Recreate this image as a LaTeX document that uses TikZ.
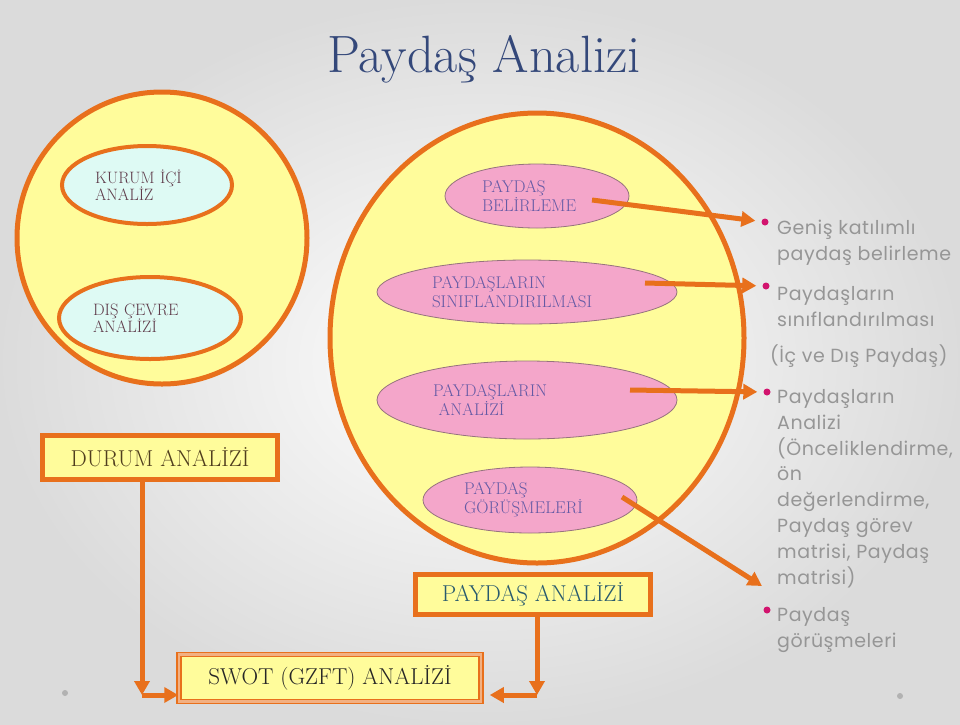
\documentclass[tikz,border=0pt]{standalone}
\usepackage{fontspec}
\newfontfamily\gothic[LetterSpace=3]{Poppins}
\usetikzlibrary{arrows.meta}
\usetikzlibrary{shapes.geometric}
\definecolor{rim}{RGB}{232,112,28}
\definecolor{lemon}{RGB}{255,252,155}
\definecolor{mint}{RGB}{222,250,244}
\definecolor{rose}{RGB}{244,166,202}
\definecolor{roseline}{RGB}{150,115,125}
\definecolor{ink}{RGB}{52,72,122}
\definecolor{violet}{RGB}{100,90,165}
\definecolor{plum}{RGB}{95,60,75}
\definecolor{olive}{RGB}{80,62,30}
\definecolor{teal}{RGB}{40,90,110}
\definecolor{dotpink}{RGB}{210,20,110}
\definecolor{ash}{RGB}{150,150,150}
\tikzstyle{cyanoval} = [ellipse, draw=rim, line width=4pt, fill=mint, inner sep=0pt, align=left, text=plum, font=\fontsize{16.5}{17}\selectfont]
\tikzstyle{pinkoval} = [ellipse, draw=roseline, line width=0.8pt, fill=rose, inner sep=0pt, align=left, text=violet, font=\fontsize{17}{19}\selectfont]
\tikzstyle{slidebox} = [draw=rim, line width=5pt, fill=lemon, inner sep=0pt, font=\fontsize{23}{26}\selectfont]
\tikzstyle{arrowline} = [draw=rim, line width=5pt, -{Triangle[length=14pt,width=15pt]}]
\tikzstyle{bulletdot} = [circle, fill=dotpink, inner sep=0pt, minimum size=7pt]
\tikzstyle{bullet} = [anchor=base west, inner sep=0pt, align=left, text=ash, font=\gothic\fontsize{19}{25.8}\selectfont]
\begin{document}
\begin{tikzpicture}[x=1pt,y=-1pt]
	\shade[inner color=white, outer color=gray!28] (0,0) rectangle (960,724);
	\useasboundingbox (0,0) rectangle (960,724);
	\node[anchor=base, text=ink, font=\fontsize{52.5}{60}\selectfont] (title) at (484,72) {Paydaş Analizi};
	% durum analizi
	\filldraw[draw=rim, fill=lemon, line width=5pt] (162,238) ellipse [x radius=145pt, y radius=146pt];
	\node[cyanoval, minimum width=170pt, minimum height=78pt, text width=104pt] (kurum) at (147,185) {KURUM İÇİ\\ANALİZ};
	\node[cyanoval, minimum width=182pt, minimum height=82pt, text width=114pt] (dis) at (150,318) {DIŞ ÇEVRE\\ANALİZİ};
	% paydas analizi
	\filldraw[draw=rim, fill=lemon, line width=5pt] (537,338) ellipse [x radius=207pt, y radius=225pt];
	\node[pinkoval, minimum width=184pt, minimum height=64pt, text width=110pt] (bel) at (537,196) {PAYDAŞ\\BELİRLEME};
	\node[pinkoval, minimum width=300pt, minimum height=64pt, text width=190pt] (sin) at (527,292) {PAYDAŞLARIN\\SINIFLANDIRILMASI};
	\node[pinkoval, minimum width=300pt, minimum height=78pt, text width=188pt] (ana) at (527,400) {PAYDAŞLARIN\\\ ANALİZİ};
	\node[pinkoval, minimum width=214pt, minimum height=66pt, text width=132pt] (gor) at (530,500) {PAYDAŞ\\GÖRÜŞMELERİ};
	% bullets (base = last line)
	\node[bulletdot] (d1) at (765,222) {};
	\node[bulletdot] (d2) at (766,286) {};
	\node[bulletdot] (d3) at (767,392) {};
	\node[bulletdot] (d4) at (767,610) {};
	\node[bullet] (b1) at (777,260) {Geniş katılımlı\\paydaş belirleme};
	\node[bullet] (b2) at (777,326) {Paydaşların\\sınıflandırılması};
	\node[bullet] (b2x) at (770,362) {(İç ve Dış Paydaş)};
	\node[bullet] (b3) at (777,584) {Paydaşların\\Analizi\\(Önceliklendirme,\\ön\\değerlendirme,\\Paydaş görev\\matrisi, Paydaş\\matrisi)};
	\node[bullet] (b4) at (777,647) {Paydaş\\görüşmeleri};
	\coordinate (a1) at ([shift={(55,4)}]bel.center);
	\coordinate (a2) at ([shift={(118,-9)}]sin.center);
	\coordinate (a3) at ([shift={(103,-10)}]ana.center);
	\coordinate (a4) at ([shift={(92,-3)}]gor.center);
	\coordinate (t4) at (762,586);
	\draw[arrowline, shorten >=6pt] (a1) -- (d1);
	\draw[arrowline, shorten >=6pt] (a2) -- (d2);
	\draw[arrowline, shorten >=6pt] (a3) -- (d3);
	\draw[arrowline] (a4) -- (t4);
	% boxes
	\node[slidebox, minimum width=235pt, minimum height=44pt, text=olive] (durum) at (160,457) {DURUM ANALİZİ};
	\node[slidebox, minimum width=235pt, minimum height=40pt, text=teal] (paydas) at (533,594) {PAYDAŞ ANALİZİ};
	\node[draw=rim, line width=1.5pt, double=rim!55, double distance=2.5pt, fill=lemon, inner sep=0pt, minimum width=302pt, minimum height=47pt, font=\fontsize{23}{26}\selectfont, text=black!85] (swot) at (330,678) {SWOT (GZFT) ANALİZİ};
	\coordinate (dturn) at (142,695);
	\coordinate (pturn) at (537,695);
	\draw[arrowline] (durum.south -| dturn) -- (dturn);
	\draw[arrowline] (dturn) -- (swot.west |- dturn);
	\draw[arrowline] (paydas.south -| pturn) -- (pturn);
	\draw[arrowline, shorten >=8pt] (pturn) -- (swot.east |- pturn);
	\fill[gray!60] (65,693) circle (3pt);
	\fill[gray!60] (900,696) circle (3pt);
\end{tikzpicture}
\end{document}
